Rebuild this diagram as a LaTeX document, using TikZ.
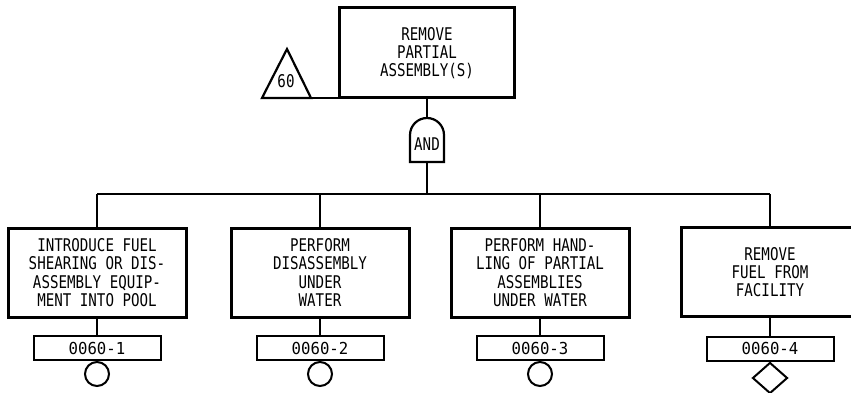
\documentclass[tikz,border=0pt]{standalone}
\usepackage{fontspec}
\usetikzlibrary{shapes.geometric}
\newfontfamily\diagfont[FakeStretch=0.81]{DejaVu Sans Mono}
\newfontfamily\labfont[FakeStretch=0.95]{DejaVu Sans Mono}
\begin{document}
\begin{tikzpicture}[x=1pt,y=-1pt,
  boxstyle/.style={draw, line width=3pt, minimum width=178, minimum height=89, inner sep=0pt, align=center,
    font=\diagfont\fontsize{17.5}{18.3}\selectfont},
  labstyle/.style={draw, line width=2pt, minimum width=127, minimum height=24, inner sep=0pt,
    font=\labfont\fontsize{16.5}{17}\selectfont},
  conn/.style={line width=2.2pt},
  txt/.style={inner sep=0pt, font=\diagfont\fontsize{17.5}{18.3}\selectfont},
  basic/.style={draw, circle, line width=2pt, minimum size=24, inner sep=0pt},
  undev/.style={draw, diamond, line width=2pt, minimum width=35, minimum height=31, inner sep=0pt}]
\clip (0,0) rectangle (851,393);
\fill[white] (0,0) rectangle (851,393);

% top event
\node[boxstyle, minimum width=175, minimum height=90] (top) at (427,53) {REMOVE\\PARTIAL\\ASSEMBLY(S)};

% transfer triangle
\coordinate (t1) at (262,98);
\coordinate (t2) at (287,49);
\coordinate (t3) at (311,98);
\draw[conn, line join=miter] (t1) -- (t2) -- (t3) -- cycle;
\node[txt] (tri) at (286,81) {60};
\draw[conn] (t3) -- (t3 -| top.west);

% AND gate
\coordinate (gtop) at (427,118);
\coordinate (gbot) at (427,162);
\draw[conn] (410,162) -- (410,135) arc[start angle=180, end angle=360, x radius=17, y radius=17] -- (444,162) -- cycle;
\node[txt] (gate) at (427,144) {AND};
\draw[conn] (top.south) -- (gtop);

% bar
\coordinate (barL) at (97,194);
\coordinate (barR) at (770,194);
\draw[conn] (gbot) -- (gbot |- barL);
\draw[conn] (barL) -- (barR);

% children
\node[boxstyle] (c1) at (97,272.5) {INTRODUCE FUEL\\SHEARING OR DIS-\\ASSEMBLY EQUIP-\\MENT INTO POOL};
\node[boxstyle] (c2) at (320,272.5) {PERFORM\\DISASSEMBLY\\UNDER\\WATER};
\node[boxstyle] (c3) at (540,272.5) {PERFORM HAND-\\LING OF PARTIAL\\ASSEMBLIES\\UNDER WATER};
\node[boxstyle] (c4) at (770,272) {REMOVE\\FUEL FROM\\FACILITY};

\foreach \n in {c1,c2,c3,c4} {
  \draw[conn] (\n.north) -- (\n.north |- barL);
}

% labels
\node[labstyle] (l1) at (97,348) {0060-1};
\node[labstyle] (l2) at (320,348) {0060-2};
\node[labstyle] (l3) at (540,348) {0060-3};
\node[labstyle] (l4) at (770,348.5) {0060-4};

\draw[conn] (c1.south) -- (l1.north);
\draw[conn] (c2.south) -- (l2.north);
\draw[conn] (c3.south) -- (l3.north);
\draw[conn] (c4.south) -- (l4.north);

% event symbols
\node[basic, anchor=north] (e1) at (l1.south) {};
\node[basic, anchor=north] (e2) at (l2.south) {};
\node[basic, anchor=north] (e3) at (l3.south) {};
\node[undev, anchor=north] (e4) at (l4.south) {};
\end{tikzpicture}
\end{document}
